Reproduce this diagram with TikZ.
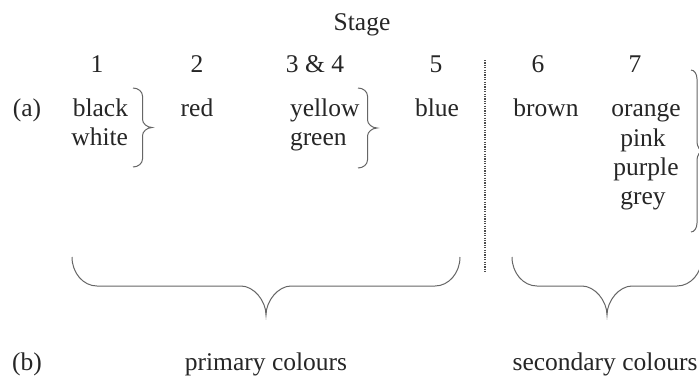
\documentclass[tikz,border=0pt]{standalone}
\usepackage{fontspec}
\setmainfont{Liberation Serif}
\tikzset{
  lbl/.style={inner sep=0pt, outer sep=0pt, text=black!85, font=\fontsize{25.5}{30}\selectfont, anchor=base},
  bracepath/.style={draw=black!60, line width=1pt},
  dotline/.style={draw=black!70, line width=1.6pt, dash pattern=on 1.2pt off 1.2pt}
}
% vertical right brace: x, ytop, ybot, half-amplitude h, curl r
\newcommand{\myvbrace}[5]{%
  \draw[bracepath] (#1,#2) .. controls ({#1+0.55*#4},#2) and ({#1+#4},{#2+0.45*#5}) .. ({#1+#4},{#2+#5})
   -- ({#1+#4},{(#2+#3)/2-#5})
   .. controls ({#1+#4},{(#2+#3)/2-0.5*#5}) and ({#1+1.5*#4},{(#2+#3)/2}) .. ({#1+2*#4},{(#2+#3)/2})
   .. controls ({#1+1.5*#4},{(#2+#3)/2}) and ({#1+#4},{(#2+#3)/2+0.5*#5}) .. ({#1+#4},{(#2+#3)/2+#5})
   -- ({#1+#4},{#3-#5})
   .. controls ({#1+#4},{#3-0.45*#5}) and ({#1+0.55*#4},#3) .. (#1,#3);}
% horizontal downward brace: y, xleft, xright, half-amplitude h, curl r
\newcommand{\myhbrace}[5]{%
  \draw[bracepath] (#2,#1) .. controls (#2,{#1+0.55*#4}) and ({#2+0.45*#5},{#1+#4}) .. ({#2+#5},{#1+#4})
   -- ({(#2+#3)/2-#5},{#1+#4})
   .. controls ({(#2+#3)/2-0.5*#5},{#1+#4}) and ({(#2+#3)/2},{#1+1.5*#4}) .. ({(#2+#3)/2},{#1+2*#4})
   .. controls ({(#2+#3)/2},{#1+1.5*#4}) and ({(#2+#3)/2+0.5*#5},{#1+#4}) .. ({(#2+#3)/2+#5},{#1+#4})
   -- ({#3-#5},{#1+#4})
   .. controls ({#3-0.45*#5},{#1+#4}) and (#3,{#1+0.55*#4}) .. (#3,#1);}
\begin{document}
\begin{tikzpicture}[x=1pt,y=-1pt]
\useasboundingbox (0,0) rectangle (699,378);
\clip (0,0) rectangle (699,378);
\fill[white] (0,0) rectangle (699,378);
% header
\node[lbl] (stage) at (362,30) {Stage};
\node[lbl] (s1) at (97,72) {1};
\node[lbl] (s2) at (197,72) {2};
\node[lbl] (s34) at (315,72) {3 \& 4};
\node[lbl] (s5) at (436,72) {5};
\node[lbl] (s6) at (538,72) {6};
\node[lbl] (s7) at (635,72) {7};
% row (a)
\node[lbl] (a) at (27,116) {(a)};
\node[lbl, anchor=base east] (black) at (128,116) {black};
\node[lbl, anchor=base east] (white) at (128,145) {white};
\node[lbl] (red) at (197,116) {red};
\node[lbl, anchor=base west] (yellow) at (290,116) {yellow};
\node[lbl, anchor=base west] (green) at (290,145) {green};
\node[lbl] (blue) at (437,116) {blue};
\node[lbl] (brown) at (546,116) {brown};
\node[lbl] (orange) at (646,116) {orange};
\node[lbl] (pink) at (643,146) {pink};
\node[lbl] (purple) at (646,175) {purple};
\node[lbl] (grey) at (643,204) {grey};
% braces
\myvbrace{133}{88}{167}{9.5}{8}
\myvbrace{358}{88}{168}{9.5}{8}
\myvbrace{691}{70}{232}{6}{9}
\myhbrace{257}{72}{460}{29}{25}
\myhbrace{257}{512}{702}{29}{25}
% divider
\coordinate (dtop) at (485,60);
\coordinate (dbot) at (485,273);
\draw[dotline] (dtop) -- (dbot);
% row (b)
\node[lbl] (b) at (27,370) {(b)};
\node[lbl] (prim) at (266,370) {primary colours};
\node[lbl] (sec) at (605,370) {secondary colours};
\end{tikzpicture}
\end{document}
